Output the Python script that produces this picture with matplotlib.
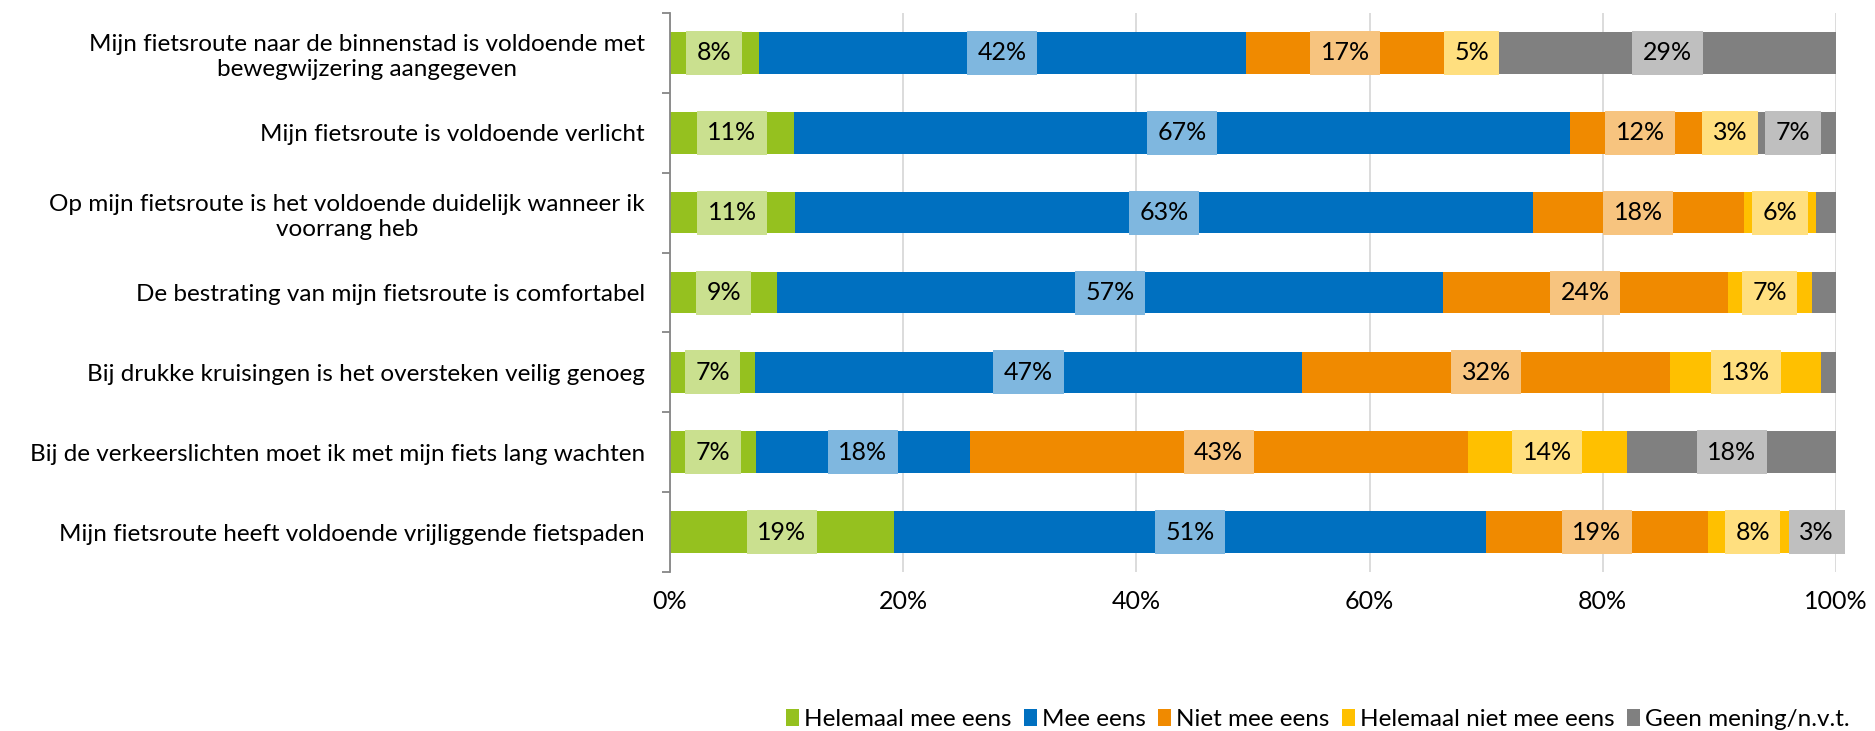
import matplotlib
matplotlib.use('Agg')
import matplotlib.pyplot as plt
import numpy as np

plt.rcParams['font.family'] = ['Lato', 'DejaVu Sans']

# stellingen (van boven naar beneden)
stellingen = [
    'Mijn fietsroute naar de binnenstad is voldoende met\nbewegwijzering aangegeven',
    'Mijn fietsroute is voldoende verlicht',
    'Op mijn fietsroute is het voldoende duidelijk wanneer ik\nvoorrang heb',
    'De bestrating van mijn fietsroute is comfortabel',
    'Bij drukke kruisingen is het oversteken veilig genoeg',
    'Bij de verkeerslichten moet ik met mijn fiets lang wachten',
    'Mijn fietsroute heeft voldoende vrijliggende fietspaden',
]

antwoorden = ['Helemaal mee eens', 'Mee eens', 'Niet mee eens',
              'Helemaal niet mee eens', 'Geen mening/n.v.t.']

helemaal_mee_eens = [7.6, 10.6, 10.7, 9.2, 7.3, 7.4, 19.2]
mee_eens = [41.8, 66.6, 63.3, 57.1, 46.9, 18.3, 50.8]
niet_mee_eens = [17.0, 12.0, 18.1, 24.4, 31.6, 42.7, 19.0]
helemaal_niet_mee_eens = [4.7, 3.4, 6.2, 7.2, 12.9, 13.7, 7.7]
geen_mening = [28.9, 7.4, 1.7, 2.1, 1.3, 17.9, 3.3]

kleuren = ['#95C11F', '#0070C0', '#F08A00', '#FFC000', '#808080']
licht = ['#CAE08F', '#7FB7DF', '#F7C47F', '#FFDF7F', '#BFBFBF']

reeksen = [helemaal_mee_eens, mee_eens, niet_mee_eens,
           helemaal_niet_mee_eens, geen_mening]

fig = plt.figure(figsize=(18.75, 7.31), dpi=100)
ax = fig.add_axes([0.3573, 0.2175, 0.9792 - 0.3573, 0.9822 - 0.2175])

y = np.arange(len(stellingen))
links = np.zeros(len(stellingen))
for naam, waarden, kleur, lk in zip(antwoorden, reeksen, kleuren, licht):
    waarden = np.array(waarden)
    ax.barh(y, waarden, left=links, height=0.52, color=kleur, label=naam, zorder=2)
    for yi, l, w in zip(y, links, waarden):
        if w >= 3:
            ax.text(l + w / 2, yi, f'{round(w):.0f}%', ha='center', va='center',
                    fontsize=18, color='black', zorder=3,
                    bbox=dict(boxstyle='square,pad=0.42', facecolor=lk, edgecolor='none'))
    links += waarden

ax.set_xlim(0, 100)
ax.set_ylim(len(stellingen) - 0.5, -0.5)

# gridlijnen
ax.set_xticks([0, 20, 40, 60, 80, 100])
ax.set_xticklabels(['0%', '20%', '40%', '60%', '80%', '100%'], fontsize=18)
ax.tick_params(axis='x', length=0, pad=13)
ax.grid(axis='x', color='#D9D9D9', linewidth=1.3, zorder=0)

ax.set_yticks(y)
ax.set_yticklabels(stellingen, fontsize=17.5, multialignment='center', linespacing=1.25)
ax.set_yticks(np.arange(-0.5, len(stellingen)), minor=True)
ax.tick_params(axis='y', which='major', length=0, pad=18)
ax.tick_params(axis='y', which='minor', length=6, width=1.3, color='#868686')

for s in ['top', 'right', 'bottom']:
    ax.spines[s].set_visible(False)
ax.spines['left'].set_color('#868686')
ax.spines['left'].set_linewidth(1.3)

ax.legend(loc='center right', bbox_to_anchor=(0.993, 0.016), bbox_transform=fig.transFigure,
          ncol=5, frameon=False, fontsize=17.5, handlelength=0.55, handleheight=0.7,
          handletextpad=0.2, columnspacing=0.5, borderpad=0)

plt.savefig('out.png', dpi=100)
